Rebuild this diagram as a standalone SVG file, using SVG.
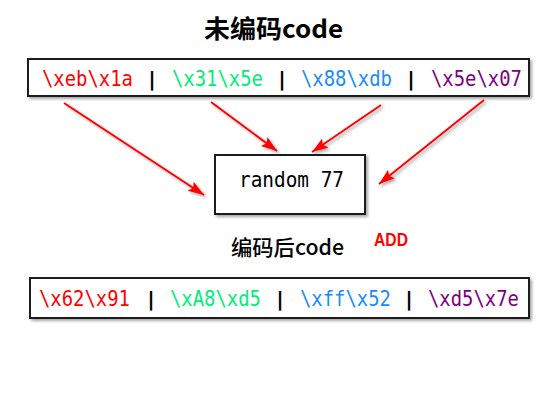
<svg xmlns="http://www.w3.org/2000/svg" width="554" height="415" viewBox="0 0 554 415">
<defs>
<filter id="sh" x="-10%" y="-20%" width="130%" height="150%">
<feDropShadow dx="2" dy="2" stdDeviation="1.8" flood-color="#000" flood-opacity="0.35"/>
</filter>
<marker id="ah" markerUnits="userSpaceOnUse" markerWidth="18" markerHeight="12" refX="16" refY="5.5" orient="auto">
<path d="M0,0 L16,5.5 L0,11 L3,5.5 z" fill="#f00"/>
</marker>
<style>
.box{fill:#fff;stroke:#1a1a1a;stroke-width:2}
.mono{font-family:"DejaVu Sans Mono","Liberation Mono",monospace;font-size:20.5px}
.bar{font-family:"DejaVu Sans Mono","Liberation Mono",monospace;font-size:20px;font-weight:bold;fill:#000;text-anchor:middle}
.cjk{font-family:"Noto Sans CJK SC","Liberation Sans",sans-serif;fill:#000}
.arr{stroke:#f00;stroke-width:2;fill:none;marker-end:url(#ah)}
.r{fill:#f00}.g{fill:#00ee76}.b{fill:#1a8cff}.p{fill:#800080}
</style>
</defs>
<rect width="554" height="415" fill="#fff"/>
<g id="title"><text class="cjk" x="204" y="38" font-size="25" font-weight="bold" textLength="139" lengthAdjust="spacingAndGlyphs">未编码code</text></g>
<g id="top-box" filter="url(#sh)">
<rect class="box" x="28" y="59" width="501" height="37"/>
</g>
<g id="top-text">
<text class="mono r" x="42" y="86" textLength="91" lengthAdjust="spacingAndGlyphs">\xeb\x1a</text>
<text class="bar" x="152" y="86">|</text>
<text class="mono g" x="172" y="86" textLength="91" lengthAdjust="spacingAndGlyphs">\x31\x5e</text>
<text class="bar" x="282" y="86">|</text>
<text class="mono b" x="301" y="86" textLength="91" lengthAdjust="spacingAndGlyphs">\x88\xdb</text>
<text class="bar" x="411" y="86">|</text>
<text class="mono p" x="431" y="86" textLength="91" lengthAdjust="spacingAndGlyphs">\x5e\x07</text>
</g>
<g id="connectors" filter="url(#sh)">
<line class="arr" x1="64" y1="103" x2="204" y2="195"/>
<line class="arr" x1="211" y1="102" x2="277" y2="151"/>
<line class="arr" x1="381" y1="105" x2="312" y2="152"/>
<line class="arr" x1="484" y1="100" x2="379" y2="184"/>
</g>
<g id="random-box">
<rect class="box" x="215" y="155" width="150" height="59" filter="url(#sh)"/>
<text class="mono" x="239" y="187" fill="#000" textLength="105" lengthAdjust="spacingAndGlyphs">random 77</text>
</g>
<g id="subtitle"><text class="cjk" x="231" y="255" font-size="21" font-weight="500" textLength="113" lengthAdjust="spacingAndGlyphs">编码后code</text></g>
<g id="add"><text x="374" y="246" font-family="Liberation Sans, Arial, sans-serif" font-weight="bold" font-size="17.5" fill="#f00" textLength="34" lengthAdjust="spacingAndGlyphs">ADD</text></g>
<g id="bottom-box" filter="url(#sh)">
<rect class="box" x="30" y="278" width="499" height="40"/>
</g>
<g id="bottom-text">
<text class="mono r" x="39" y="306" textLength="91" lengthAdjust="spacingAndGlyphs">\x62\x91</text>
<text class="bar" x="151" y="306">|</text>
<text class="mono g" x="170" y="306" textLength="91" lengthAdjust="spacingAndGlyphs">\xA8\xd5</text>
<text class="bar" x="280" y="306">|</text>
<text class="mono b" x="300" y="306" textLength="91" lengthAdjust="spacingAndGlyphs">\xff\x52</text>
<text class="bar" x="409" y="306">|</text>
<text class="mono p" x="428" y="306" textLength="91" lengthAdjust="spacingAndGlyphs">\xd5\x7e</text>
</g>
</svg>
